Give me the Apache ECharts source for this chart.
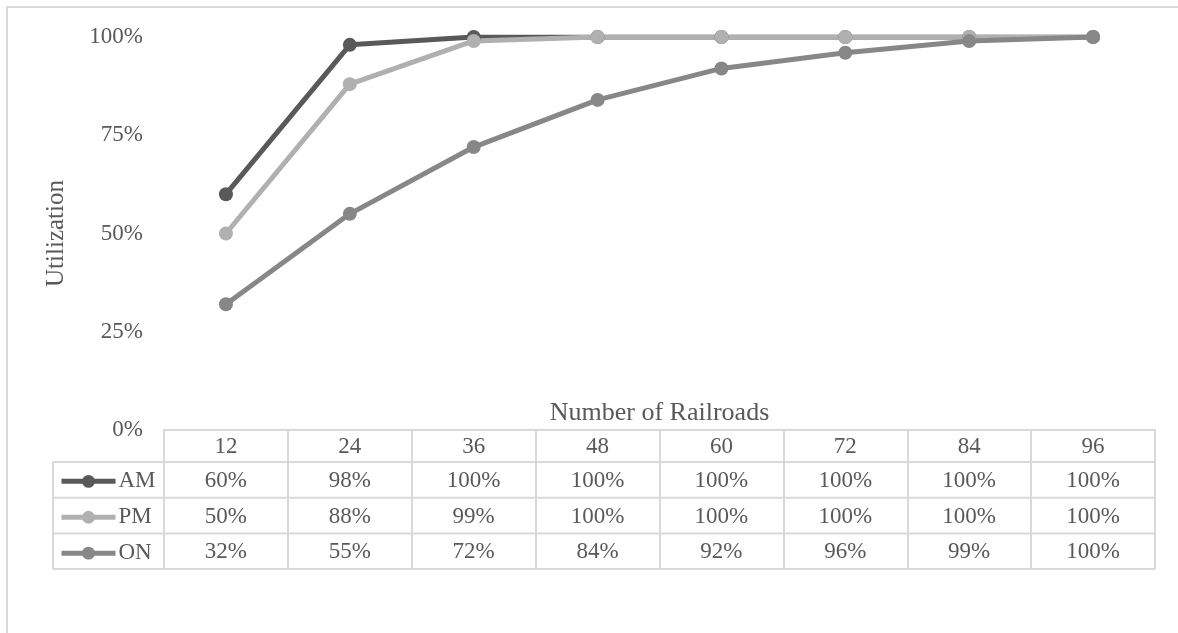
<!DOCTYPE html>
<html>
<head>
<meta charset="utf-8">
<script src="https://cdn.jsdelivr.net/npm/echarts@6/dist/echarts.min.js"></script>
<style>
  html, body { margin: 0; padding: 0; background: #fff; }
  #chart { width: 1178px; height: 633px; }
</style>
</head>
<body>
<div id="chart"></div>
<script>
// Railroad counts along the x axis
const railroads = ['12', '24', '36', '48', '60', '72', '84', '96'];
// Utilization per period (fraction of capacity)
const amValues = [0.60, 0.98, 1.00, 1.00, 1.00, 1.00, 1.00, 1.00];
const pmValues = [0.50, 0.88, 0.99, 1.00, 1.00, 1.00, 1.00, 1.00];
const onValues = [0.32, 0.55, 0.72, 0.84, 0.92, 0.96, 0.99, 1.00];
const yTicks = [0, 0.25, 0.5, 0.75, 1];

const seriesDefs = [
  { name: 'AM', data: amValues, color: '#595959' },
  { name: 'PM', data: pmValues, color: '#b0b0b0' },
  { name: 'ON', data: onValues, color: '#878787' }
];

const FONT = '"Liberation Serif", "Times New Roman", serif';
const TEXT = '#595959';
const RULE = '#d9d9d9';
const LABEL_SIZE = 23;

const chart = echarts.init(document.getElementById('chart'), null, { renderer: 'canvas' });

const gridLeft = 164, gridRight = 1155, gridTop = 37, gridBottom = 430;
const rowTop = 462, rowH = 35.7, tableLeft = 53;
const legendIconH = 16;
const legendItemH = 22.8; // rendered height of one legend entry

const pct = v => Math.round(v * 100) + '%';

chart.setOption({
  animation: false,
  backgroundColor: '#fff',
  textStyle: { fontFamily: FONT },
  grid: { left: gridLeft, top: gridTop, width: gridRight - gridLeft, height: gridBottom - gridTop },
  legend: {
    orient: 'vertical',
    left: 59,
    top: rowTop + rowH / 2 - 10,
    padding: 0,
    itemWidth: 54,
    itemHeight: legendIconH,
    itemGap: rowH - legendItemH,
    lineStyle: { width: 5 },
    textStyle: { fontFamily: FONT, fontSize: LABEL_SIZE, color: TEXT, lineHeight: legendIconH, padding: [2, 0, 0, -2] },
    data: seriesDefs.map(s => s.name)
  },
  xAxis: {
    type: 'category',
    data: railroads,
    boundaryGap: true,
    axisLine: { lineStyle: { color: RULE, width: 2 } },
    axisTick: { show: true, length: rowTop + rowH * 3 - gridBottom, lineStyle: { color: RULE, width: 2 } },
    axisLabel: { fontFamily: FONT, fontSize: LABEL_SIZE, color: TEXT, margin: 5 },
    splitLine: { show: false }
  },
  yAxis: {
    type: 'value',
    min: yTicks[0],
    max: yTicks[yTicks.length - 1],
    interval: yTicks[1] - yTicks[0],
    name: 'Utilization',
    nameLocation: 'middle',
    nameGap: 95,
    nameTextStyle: { fontFamily: FONT, fontSize: 25, color: TEXT },
    axisLine: { show: false },
    axisTick: { show: false },
    splitLine: { show: false },
    axisLabel: { fontFamily: FONT, fontSize: LABEL_SIZE, color: TEXT, margin: 21, formatter: v => pct(v) }
  },
  series: seriesDefs.map(s => ({
    name: s.name,
    type: 'line',
    data: s.data,
    symbol: 'circle',
    symbolSize: 14,
    color: s.color,
    lineStyle: { width: 5, color: s.color },
    itemStyle: { color: s.color }
  }))
});

// Data table under the plot: value cells, row rules, axis title and the frame
const graphics = [];
graphics.push({
  type: 'rect', silent: true, z: -10,
  shape: { x: 7, y: 7, width: 1300, height: 800 },
  style: { fill: 'none', stroke: RULE, lineWidth: 2 }
});
for (let r = 0; r <= 3; r++) {
  const y = rowTop + r * rowH;
  graphics.push({
    type: 'line', silent: true,
    shape: { x1: tableLeft, y1: y, x2: gridRight, y2: y },
    style: { stroke: RULE, lineWidth: 2 }
  });
}
graphics.push({
  type: 'line', silent: true,
  shape: { x1: tableLeft, y1: rowTop, x2: tableLeft, y2: rowTop + rowH * 3 },
  style: { stroke: RULE, lineWidth: 2 }
});
graphics.push({
  type: 'text', silent: true,
  x: (gridLeft + gridRight) / 2, y: gridBottom - 17,
  style: { text: 'Number of Railroads', fontFamily: FONT, fontSize: 26, fill: TEXT, align: 'center', verticalAlign: 'middle' }
});
seriesDefs.forEach((s, r) => {
  s.data.forEach((v, i) => {
    const x = chart.convertToPixel({ xAxisIndex: 0 }, i);
    graphics.push({
      type: 'text', silent: true,
      x: x, y: rowTop + r * rowH + rowH / 2 + 1,
      style: { text: pct(v), fontFamily: FONT, fontSize: LABEL_SIZE, fill: TEXT, align: 'center', verticalAlign: 'middle' }
    });
  });
});
chart.setOption({ graphic: graphics });
</script>
</body>
</html>
